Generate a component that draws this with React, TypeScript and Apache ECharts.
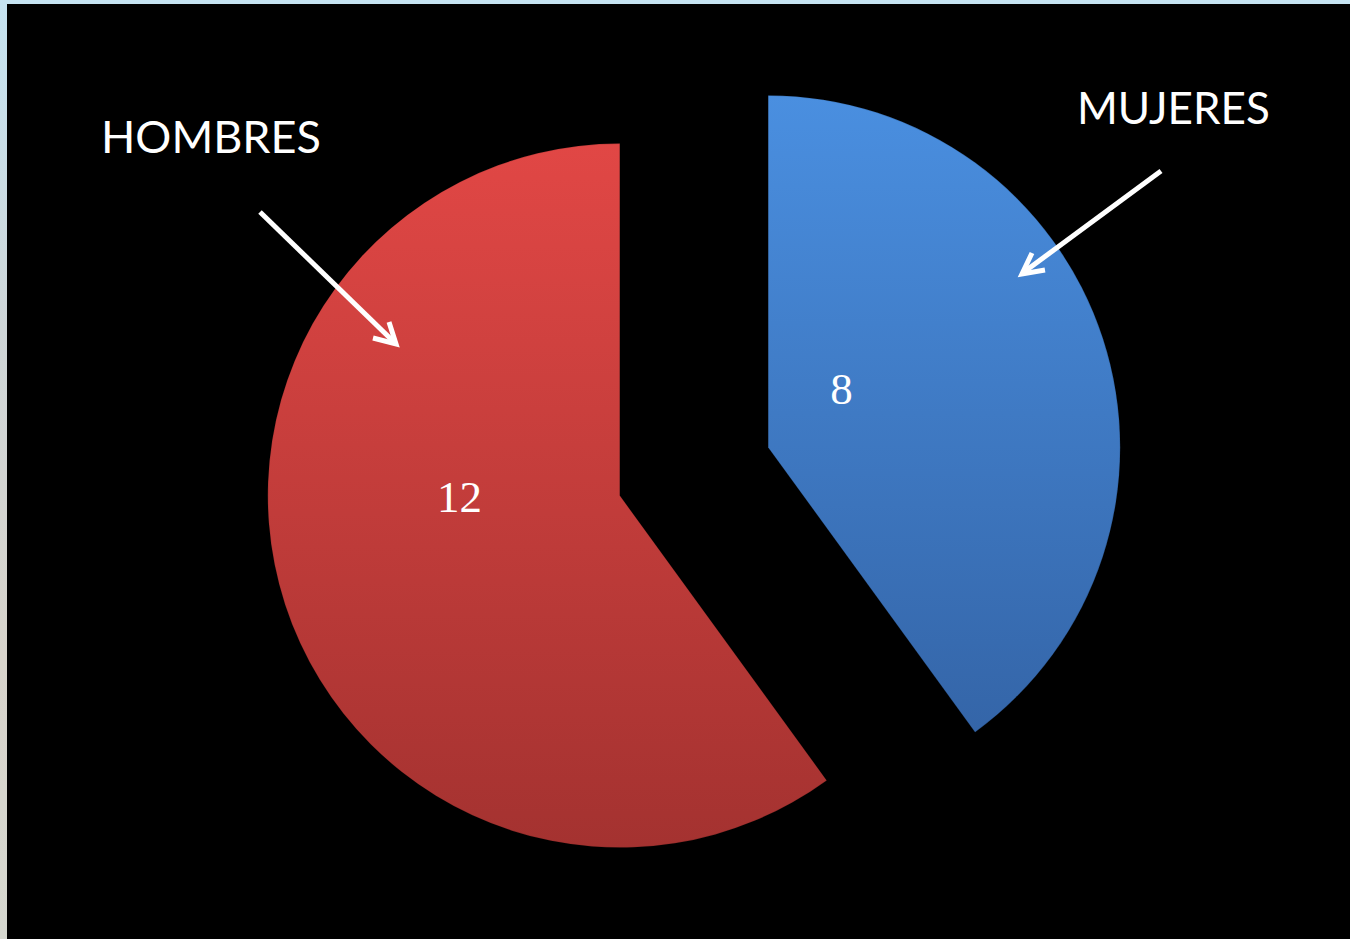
import React, { useEffect, useRef } from "react";
import * as echarts from "echarts";

const categories = ["MUJERES", "HOMBRES"];
const values = [8, 12];
const topColors = ["#4a8fe0", "#e14745"];
const bottomColors = ["#3465a8", "#a43230"];
const labelShifts = [[-97, -3], [10, -54]];

export default function App() {
  const ref = useRef<HTMLDivElement>(null);
  useEffect(() => {
    if (!ref.current) return;
    const chart = echarts.init(ref.current, null, { renderer: "svg" });
    const arrowStyle = { stroke: "#ffffff", lineWidth: 5, fill: "none", lineJoin: "miter" };
    chart.setOption({
      animation: false,
      backgroundColor: "#000000",
      graphic: [
        { type: "rect", z: -10, shape: { x: 0, y: 0, width: 1350, height: 4 }, style: { fill: "#c6e4f2" }, silent: true },
        {
          type: "rect", z: -10, shape: { x: 0, y: 0, width: 7, height: 939 },
          style: {
            fill: new echarts.graphic.LinearGradient(0, 0, 0, 1, [
              { offset: 0, color: "#c6e4f2" },
              { offset: 0.35, color: "#cfd6d8" },
              { offset: 0.7, color: "#d8d4cc" },
              { offset: 1, color: "#d6d8d0" },
            ]),
          },
          silent: true,
        },
        { type: "text", z: 100, left: 101, top: 113, style: { text: categories[1], fill: "#ffffff", font: "45px Lato, 'Open Sans', sans-serif" }, silent: true },
        { type: "text", z: 100, left: 1077, top: 85, style: { text: categories[0], fill: "#ffffff", font: "44px Lato, 'Open Sans', sans-serif" }, silent: true },
        { type: "line", z: 100, shape: { x1: 260, y1: 212, x2: 395, y2: 343 }, style: arrowStyle, silent: true },
        { type: "polyline", z: 100, shape: { points: [[373, 338], [396, 344], [389, 322]] }, style: arrowStyle, silent: true },
        { type: "line", z: 100, shape: { x1: 1161, y1: 171, x2: 1024, y2: 272 }, style: arrowStyle, silent: true },
        { type: "polyline", z: 100, shape: { points: [[1045, 270], [1022, 274], [1032, 253]] }, style: arrowStyle, silent: true },
      ],
      series: [
        {
          type: "pie",
          z: 2,
          center: [694, 471.5],
          radius: 352,
          startAngle: 90,
          clockwise: true,
          selectedMode: "multiple",
          selectedOffset: 78,
          emphasis: { disabled: true },
          labelLine: { show: false },
          label: {
            show: true,
            position: "inside",
            formatter: "{c}",
            color: "#ffffff",
            fontFamily: "'Liberation Serif', 'DejaVu Serif', serif",
            fontSize: 45,
          },
          labelLayout: (params: any) => ({
            dx: labelShifts[params.dataIndex][0],
            dy: labelShifts[params.dataIndex][1],
          }),
          itemStyle: { borderColor: "rgba(0,0,0,0.15)", borderWidth: 1 },
          data: categories.map((name, i) => ({
            name,
            value: values[i],
            selected: true,
            itemStyle: {
              color: new echarts.graphic.LinearGradient(0, 0, 0, 1, [
                { offset: 0, color: topColors[i] },
                { offset: 1, color: bottomColors[i] },
              ]),
            },
          })),
        },
      ],
    });
    return () => chart.dispose();
  }, []);
  return <div ref={ref} style={{ position: "fixed", left: 0, top: 0, width: 1350, height: 939 }} />;
}
